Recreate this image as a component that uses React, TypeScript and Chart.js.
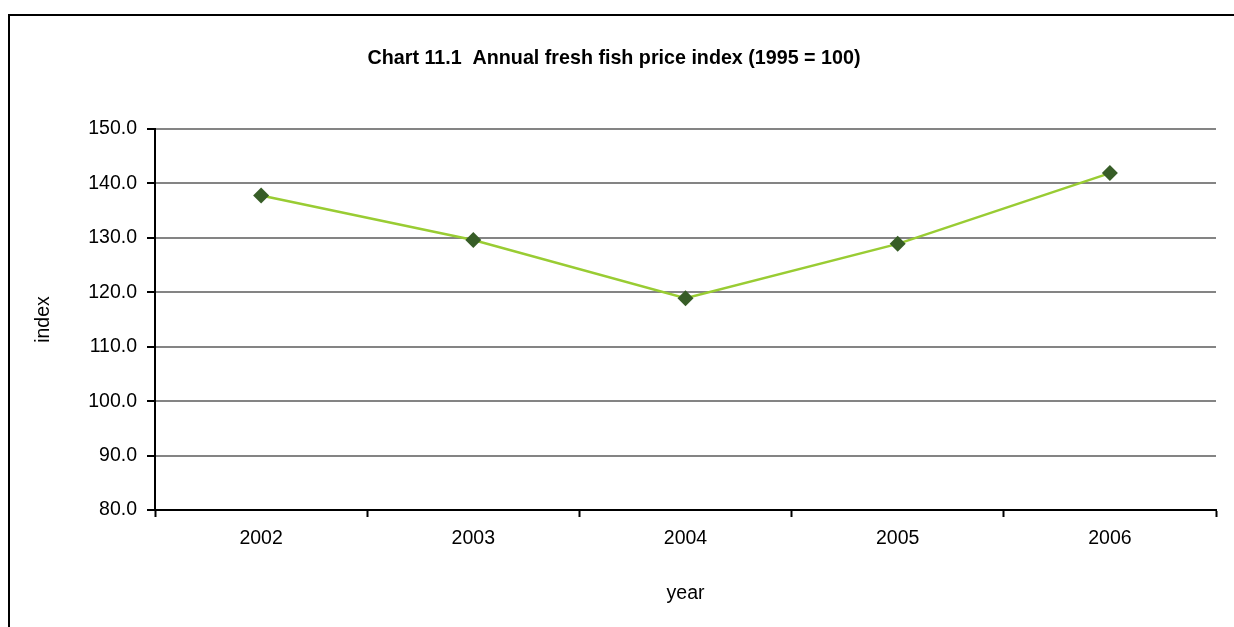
import React, { useEffect, useRef } from "react";
import { Chart, registerables } from "chart.js";

Chart.register(...registerables);

const categories: string[] = ["2002", "2003", "2004", "2005", "2006"];
const priceIndex: number[] = [137.8, 129.6, 118.9, 128.9, 141.9];
const yTicks = { min: 80, max: 150, step: 10 };

const FONT = "Arial, 'Liberation Sans', sans-serif";

export default function App() {
  const ref = useRef<HTMLCanvasElement | null>(null);

  useEffect(() => {
    if (!ref.current) return;
    const chart = new Chart(ref.current, {
      type: "line",
      data: {
        labels: categories,
        datasets: [
          {
            label: "Annual fresh fish price index",
            data: priceIndex,
            borderColor: "#99CC33",
            borderWidth: 2.5,
            backgroundColor: "#375D27",
            pointBackgroundColor: "#375D27",
            pointBorderColor: "#375D27",
            pointStyle: "rectRot",
            pointRadius: 8,
            pointBorderWidth: 0,
            tension: 0,
            fill: false,
          },
        ],
      },
      options: {
        animation: false,
        responsive: false,
        maintainAspectRatio: false,
        layout: { padding: { left: 12, right: 18, top: 0, bottom: 0 } },
        plugins: {
          legend: { display: false },
          tooltip: { enabled: false },
          title: {
            display: true,
            text: "Chart 11.1  Annual fresh fish price index (1995 = 100)",
            color: "#000",
            font: { family: FONT, size: 19.7, weight: "bold" },
            padding: { top: 47, bottom: 58.4 },
          },
        },
        scales: {
          x: {
            type: "category",
            offset: true,
            afterFit: (s: any) => {
              s.height = 117;
            },
            grid: {
              offset: true,
              drawOnChartArea: false,
              drawTicks: true,
              tickLength: 7,
              tickColor: "#000",
              tickWidth: 2,
            },
            border: { display: true, color: "#000", width: 2 },
            ticks: {
              color: "#000",
              font: { family: FONT, size: 19.5 },
              padding: 10,
              maxRotation: 0,
            },
            title: {
              display: true,
              text: "year",
              color: "#000",
              font: { family: FONT, size: 19.5 },
              padding: { top: 0, bottom: 22 },
            },
          },
          y: {
            min: yTicks.min,
            max: yTicks.max,
            afterFit: (s: any) => {
              s.width = 143;
            },
            grid: {
              color: "#848484",
              lineWidth: 2,
              drawTicks: true,
              tickLength: 8,
              tickColor: "#000",
              tickWidth: 2,
            },
            border: { display: true, color: "#000", width: 2 },
            ticks: {
              stepSize: yTicks.step,
              color: "#000",
              font: { family: FONT, size: 19.5 },
              padding: 10,
              callback: (v: any) => Number(v).toFixed(1),
            },
            title: {
              display: true,
              text: "index",
              color: "#000",
              font: { family: FONT, size: 19.5 },
              padding: { top: 20, bottom: 0 },
            },
          },
        },
      },
    });
    return () => chart.destroy();
  }, []);

  return (
    <div
      style={{
        position: "fixed",
        left: 0,
        top: 0,
        width: 1234,
        height: 627,
        overflow: "hidden",
        background: "#fff",
      }}
    >
      <div
        style={{
          position: "absolute",
          left: 8,
          top: 14,
          width: 1300,
          height: 700,
          border: "2px solid #000",
        }}
      />
      <canvas
        ref={ref}
        width={1234}
        height={627}
        style={{ position: "absolute", left: 0, top: 0, width: 1234, height: 627 }}
      />
    </div>
  );
}
